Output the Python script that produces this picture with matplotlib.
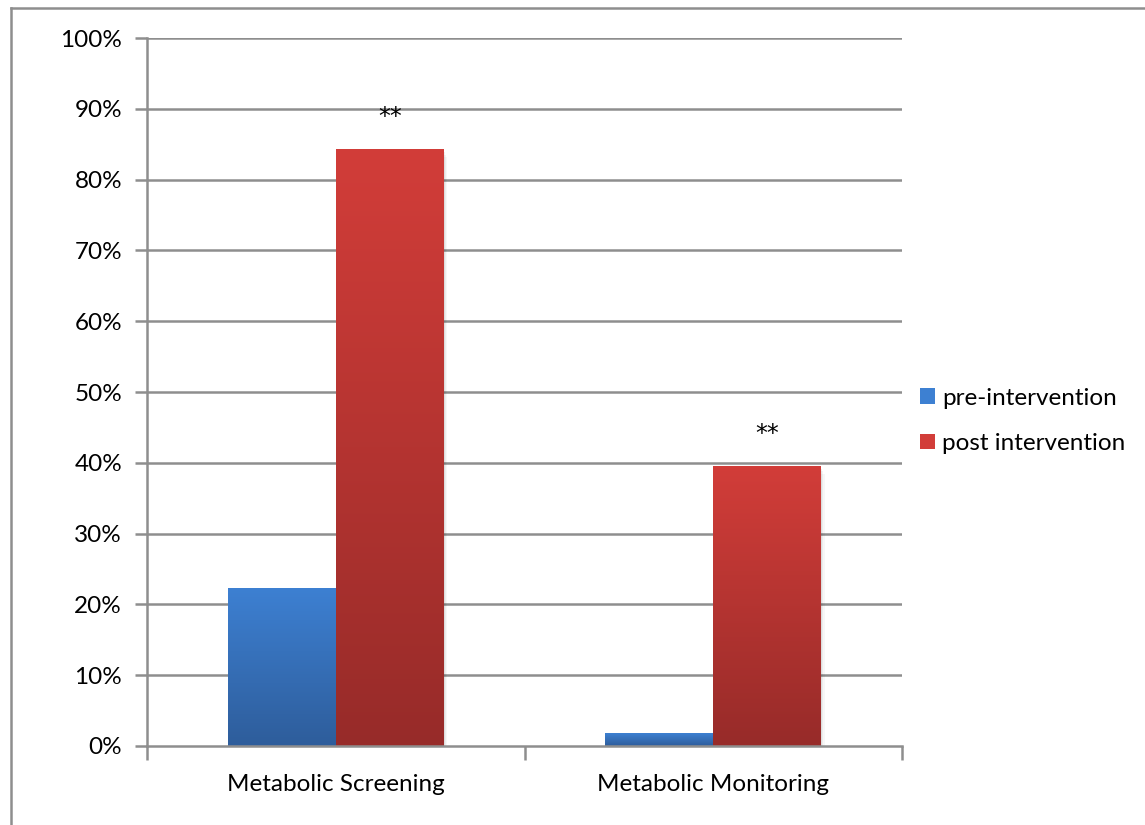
import numpy as np
import matplotlib
matplotlib.use("Agg")
import matplotlib.pyplot as plt
from matplotlib.patches import Rectangle
from matplotlib.lines import Line2D
from matplotlib.colors import LinearSegmentedColormap

plt.rcParams['font.family'] = ['Lato', 'DejaVu Sans']

categories = ["Metabolic Screening", "Metabolic Monitoring"]
series_names = ["pre-intervention", "post intervention"]
pre_values = [22.3, 1.8]
post_values = [84.2, 39.5]
significance = ["**", "**"]
yticks = list(range(0, 101, 10))

# gradient colours (top, bottom) for each series
grad_colors = [("#3d80d2", "#2e5d9b"), ("#d23d39", "#972b29")]

W, H, DPI = 1145, 825, 100
fig = plt.figure(figsize=(W / DPI, H / DPI), dpi=DPI)
ax = fig.add_axes([147 / W, 1 - 746 / H, (902 - 147) / W, (746 - 38) / H])

ax.set_xlim(0, 2)
ax.set_ylim(0, 100)

bar_w = 0.286
x = np.arange(len(categories)) + 0.5
grid_c = "#8e8e8e"
fs = 17.5

for yv in yticks[1:]:
    ax.axhline(yv, color=grid_c, lw=1.8, zorder=0)

gradient = np.linspace(1, 0, 256).reshape(-1, 1)
for si, vals in enumerate([pre_values, post_values]):
    cmap = LinearSegmentedColormap.from_list("g%d" % si, [grad_colors[si][1], grad_colors[si][0]])
    for ci, v in enumerate(vals):
        x0 = x[ci] - bar_w + si * bar_w
        # soft shadow
        for k, a in enumerate([0.06, 0.045, 0.03]):
            ax.add_patch(Rectangle((x0 + 0.003 * (k + 1), -0.35 * (k + 1)), bar_w, v,
                                   facecolor="black", alpha=a, lw=0, zorder=1))
        ax.imshow(gradient, cmap=cmap, aspect="auto", extent=(x0, x0 + bar_w, 0, v),
                  zorder=2, interpolation="bicubic")

for ci, s in enumerate(significance):
    ax.text(x[ci] + bar_w * 0.5, post_values[ci] + 4.6, s, ha="center", va="center",
            fontsize=17, color="black", family="DejaVu Sans")

ax.set_xlim(0, 2)
ax.set_ylim(0, 100)
ax.set_yticks(yticks)
ax.set_yticklabels(["%d%%" % t for t in yticks], fontsize=fs)
ax.set_xticks([0, 1, 2])
ax.set_xticklabels([])
ax.set_xticks(x, minor=True)
ax.set_xticklabels(categories, minor=True, fontsize=fs)
ax.tick_params(axis="x", which="minor", length=0, pad=20)
ax.tick_params(axis="x", which="major", length=10, width=1.8, color=grid_c, direction="out")
ax.tick_params(axis="y", length=9, width=1.8, color=grid_c, direction="out", pad=9)

for side in ["top", "right"]:
    ax.spines[side].set_visible(False)
for side in ["left", "bottom"]:
    ax.spines[side].set_color(grid_c)
    ax.spines[side].set_linewidth(1.8)

# legend
handles = [Rectangle((0, 0), 1, 1, facecolor=grad_colors[i][0], edgecolor="none") for i in range(2)]
leg = fig.legend(handles, series_names, loc="center left", bbox_to_anchor=(920 / W, 1 - 421 / H),
                 frameon=False, fontsize=fs, handlelength=0.62, handleheight=0.62,
                 handletextpad=0.3, labelspacing=1.0, borderaxespad=0, borderpad=0)

# outer border (top and left edges)
fig.add_artist(Line2D([11 / W, 1], [1 - 8 / H, 1 - 8 / H], color=grid_c, lw=1.8))
fig.add_artist(Line2D([11 / W, 11 / W], [0, 1 - 8 / H], color=grid_c, lw=1.8))

fig.savefig("out.png", dpi=DPI)
